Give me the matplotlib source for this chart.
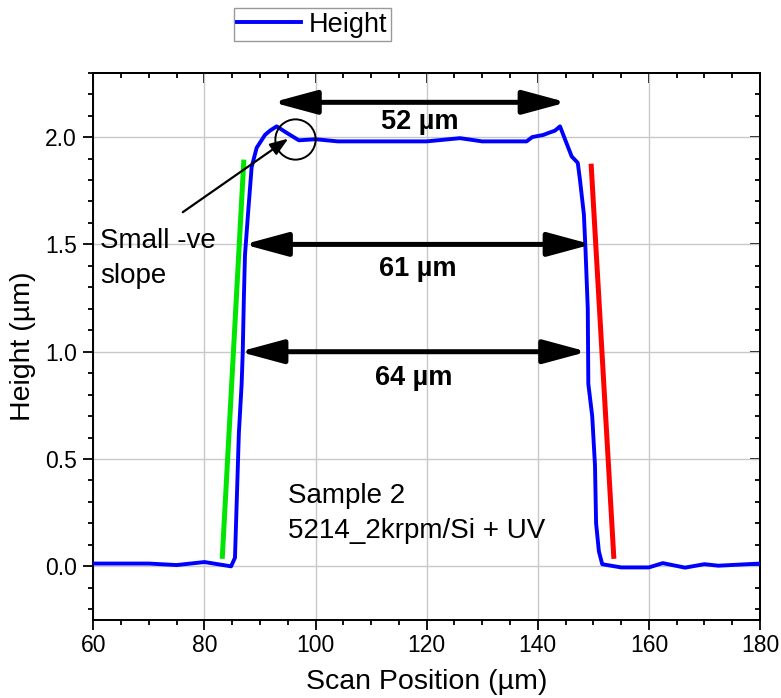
import matplotlib
matplotlib.use("Agg")
import matplotlib.pyplot as plt
from matplotlib.patches import FancyArrowPatch
from matplotlib.ticker import MultipleLocator, FormatStrFormatter

plt.rcParams['font.family'] = ['Liberation Sans', 'DejaVu Sans']

# ---- data ----
scan_pos = [60, 65, 70, 75, 80, 84.8, 85.5, 86.2, 86.7, 86.9, 87.1, 87.3, 87.9, 88.5,
            89.4, 90.9, 91.8, 93.0, 94.8, 97.0, 100.0, 104.0, 110, 120, 126, 130,
            138, 139, 141, 142, 143.1, 144, 145.2, 146.1, 147.2, 147.6, 148.3, 148.6,
            149.0, 149.1, 149.8, 150.3, 150.5, 151.0, 151.6, 155, 160, 162.5, 166.5,
            170, 172.5, 180]
height = [0.013, 0.013, 0.013, 0.006, 0.02, 0.0, 0.04, 0.62, 0.85, 1.0, 1.25, 1.45,
          1.66, 1.86, 1.95, 2.01, 2.03, 2.05, 2.02, 1.985, 1.99, 1.98, 1.98, 1.98,
          1.995, 1.98, 1.98, 2.0, 2.01, 2.02, 2.03, 2.05, 1.97, 1.91, 1.88, 1.8, 1.64,
          1.47, 1.2, 0.85, 0.70, 0.47, 0.2, 0.07, 0.01, -0.005, -0.005, 0.015, -0.006,
          0.01, 0.003, 0.013]

green_x = [83.2, 87.1]
green_y = [0.035, 1.895]
red_x = [149.6, 153.7]
red_y = [1.876, 0.035]

# width arrows: (x_start, x_end, y, label, label_y)
arrows = [(92.3, 145.2, 2.162, "52 µm", 2.07),
          (87.1, 149.7, 1.5, "61 µm", 1.386),
          (86.3, 148.9, 1.0, "64 µm", 0.877)]

fig = plt.figure(figsize=(7.81, 6.98), dpi=100)
ax = fig.add_axes([93.3/781, 1-620/698, (760-93.3)/781, (620-72.7)/698])

ax.set_xlim(60, 180)
ax.set_ylim(-0.25, 2.3)

ax.grid(True, which='major', color='#c8c8c8', lw=1.0)
ax.set_axisbelow(True)

line, = ax.plot(scan_pos, height, color='#0000ff', lw=2.8, label='Height', zorder=3)
ax.plot(green_x, green_y, color='#00e600', lw=3.6, zorder=4, solid_capstyle='butt')
ax.plot(red_x, red_y, color='#ff0000', lw=3.6, zorder=4, solid_capstyle='butt')

for x0, x1, y, lab, ly in arrows:
    arr = FancyArrowPatch((x0, y), (x1, y), arrowstyle='<|-|>,head_length=1.33,head_width=0.36',
                          mutation_scale=20, color='black', lw=3.6, shrinkA=0, shrinkB=0, zorder=5)
    ax.add_patch(arr)
    ax.text((x0 + x1) / 2, ly, lab, ha='center', va='center', fontsize=19.5,
            fontweight='bold', zorder=6)

# circle highlighting small negative slope
ax.plot([96.3], [1.99], marker='o', ms=29, mfc='none', mec='black', mew=1.4, zorder=6)
ax.annotate("", xy=(95.1, 1.993), xytext=(76.1, 1.65),
            arrowprops=dict(arrowstyle='-|>,head_length=0.55,head_width=0.2',
                            mutation_scale=20, color='black', lw=1.6, shrinkA=0, shrinkB=0),
            zorder=6)
ax.text(61.2, 1.484, "Small -ve", fontsize=20, ha='left', va='baseline')
ax.text(61.2, 1.322, "slope", fontsize=20, ha='left', va='baseline')
ax.text(95.0, 0.296, "Sample 2", fontsize=20, ha='left', va='baseline')
ax.text(95.0, 0.134, "5214_2krpm/Si + UV", fontsize=20, ha='left', va='baseline')

ax.xaxis.set_major_locator(MultipleLocator(20))
ax.xaxis.set_minor_locator(MultipleLocator(5))
ax.yaxis.set_major_locator(MultipleLocator(0.5))
ax.yaxis.set_minor_locator(MultipleLocator(0.1))
ax.yaxis.set_major_formatter(FormatStrFormatter('%.1f'))

ax.tick_params(axis='both', which='major', direction='out', length=7, width=1.3, labelsize=16.5)
ax.tick_params(axis='y', which='major', pad=5)
ax.tick_params(axis='x', which='major', pad=3)
ax.tick_params(axis='both', which='minor', direction='out', length=3.6, width=1.3)
for s in ax.spines.values():
    s.set_linewidth(1.4)

top = ax.secondary_xaxis('top')
top.xaxis.set_major_locator(MultipleLocator(20))
top.xaxis.set_minor_locator(MultipleLocator(5))
top.tick_params(which='major', direction='in', length=7, width=1.3, labeltop=False)
top.tick_params(which='minor', direction='in', length=3.6, width=1.3)
right = ax.secondary_yaxis('right')
right.yaxis.set_major_locator(MultipleLocator(0.5))
right.yaxis.set_minor_locator(MultipleLocator(0.1))
right.tick_params(which='major', direction='in', length=7, width=1.3, labelright=False)
right.tick_params(which='minor', direction='in', length=3.6, width=1.3)
top.spines['top'].set_linewidth(1.4)
right.spines['right'].set_linewidth(1.4)

ax.set_xlabel("Scan Position (µm)", fontsize=20.5, labelpad=9)
ax.set_ylabel("Height (µm)", fontsize=20.5, labelpad=6)

leg = fig.legend(handles=[line], loc='center', bbox_to_anchor=(312.5/781, 1-24.5/698),
                 fontsize=19.5, frameon=True, fancybox=False, edgecolor='#808080',
                 handlelength=2.35, handletextpad=0.3, borderpad=0.12, borderaxespad=0)
leg.get_frame().set_linewidth(1.0)

fig.savefig("out.png", dpi=100)
